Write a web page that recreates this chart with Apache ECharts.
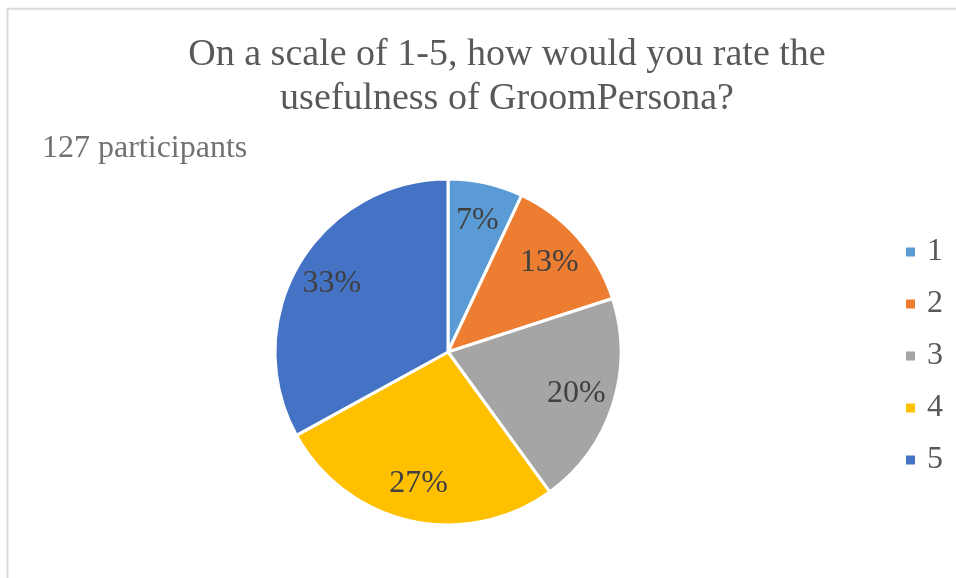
<!DOCTYPE html>
<html>
<head>
<meta charset="utf-8">
<style>
  html, body { margin: 0; padding: 0; background: #ffffff; }
  #chart { width: 956px; height: 578px; }
</style>
<script src="https://cdn.jsdelivr.net/npm/echarts@6/dist/echarts.min.js"></script>
</head>
<body>
<div id="chart"></div>
<script>
// Ratings and their share of responses (percent)
const categories = ['1', '2', '3', '4', '5'];
const shares = [7, 13, 20, 27, 33];
const colors = ['#5B9BD5', '#ED7D31', '#A5A5A5', '#FFC000', '#4472C4'];
const titleText = 'On a scale of 1-5, how would you rate the\nusefulness of GroomPersona?';
const subtitleText = '127 participants';

const serif = '"Liberation Serif", "Times New Roman", serif';

const pieData = categories.map((c, i) => ({
  name: c,
  value: shares[i],
  itemStyle: { color: colors[i] }
}));

const chart = echarts.init(document.getElementById('chart'), null, { renderer: 'canvas' });

chart.setOption({
  backgroundColor: '#ffffff',
  animation: false,
  title: [
    {
      text: titleText,
      left: 507,
      top: 33,
      padding: 0,
      textAlign: 'center',
      textStyle: {
        fontFamily: serif,
        fontSize: 38,
        fontWeight: 'normal',
        color: '#595959',
        lineHeight: 44
      }
    },
    {
      text: subtitleText,
      left: 42,
      top: 133,
      padding: 0,
      textStyle: {
        fontFamily: serif,
        fontSize: 32,
        fontWeight: 'normal',
        color: '#757070',
        lineHeight: 32
      }
    }
  ],
  legend: {
    orient: 'vertical',
    left: 904,
    top: 234,
    padding: 0,
    itemWidth: 11,
    itemHeight: 11,
    itemGap: 16,
    icon: 'rect',
    selectedMode: false,
    data: categories.map((c, i) => ({ name: c, itemStyle: { color: colors[i] } })),
    textStyle: {
      fontFamily: serif,
      fontSize: 32,
      color: '#595959',
      lineHeight: 36,
      padding: [0, 0, 0, 6]
    }
  },
  graphic: [
    {
      type: 'rect',
      silent: true,
      z: -1,
      shape: { x: 7.5, y: 8.75, width: 1100, height: 1100 },
      style: { fill: 'none', stroke: '#d9d9d9', lineWidth: 2 }
    }
  ],
  series: [
    {
      type: 'pie',
      center: [448, 352],
      radius: [0, 173],
      startAngle: 90,
      clockwise: true,
      silent: true,
      label: { show: false },
      labelLine: { show: false },
      itemStyle: { borderColor: '#ffffff', borderWidth: 3 },
      data: pieData
    },
    {
      // label ring: transparent sectors whose midpoints carry the percentage labels
      type: 'pie',
      center: [448, 352],
      radius: [91, 173],
      startAngle: 90,
      clockwise: true,
      silent: true,
      itemStyle: { color: 'rgba(0,0,0,0)' },
      labelLine: { show: false },
      label: {
        show: true,
        position: 'inside',
        formatter: p => p.value + '%',
        fontFamily: serif,
        fontSize: 32,
        color: '#404040'
      },
      data: categories.map((c, i) => ({ name: c, value: shares[i] }))
    }
  ]
});
</script>
</body>
</html>
